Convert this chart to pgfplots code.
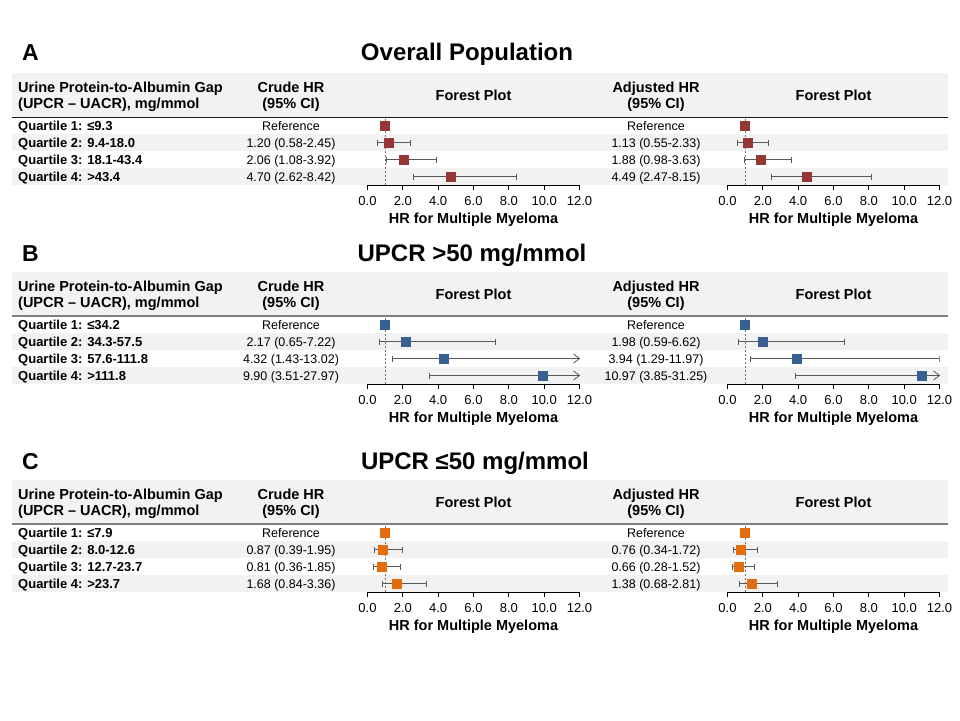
\documentclass[border=0pt]{standalone}
\usepackage{pgfplots}
\pgfplotsset{compat=1.18}
\usepackage{pgfplotstable}
\usepackage{fontspec}
\setmainfont{Liberation Sans}

\definecolor{bandgray}{HTML}{F2F2F2}
\definecolor{hrred}{HTML}{953735}
\definecolor{hrblue}{HTML}{376092}
\definecolor{hrorange}{HTML}{E46C0A}
\definecolor{cigray}{HTML}{595959}

\newcommand\titlefont{\bfseries\fontsize{24}{28}\selectfont}
\newcommand\letterfont{\bfseries\fontsize{23}{27}\selectfont}
\newcommand\headfont{\bfseries\fontsize{14.5}{17}\selectfont}
\newcommand\rowfont{\bfseries\fontsize{13}{15}\selectfont}
\newcommand\valfont{\fontsize{12.5}{15}\selectfont}

% open ">" for a CI that runs past 12
\pgfdeclareplotmark{chev}{%
  \pgfpathmoveto{\pgfpoint{-\pgfplotmarksize}{0.75\pgfplotmarksize}}%
  \pgfpathlineto{\pgfpointorigin}%
  \pgfpathlineto{\pgfpoint{-\pgfplotmarksize}{-0.75\pgfplotmarksize}}%
  \pgfusepathqstroke}

% y: 4 = quartile 1 (top row) ... 1 = quartile 4 (bottom row)
\pgfplotstableread{
y hr lo hi
4 1.00 1.00 1.00
3 1.20 0.58 2.45
2 2.06 1.08 3.92
1 4.70 2.62 8.42
}\Acrude
\pgfplotstableread{
y hr lo hi
4 1.00 1.00 1.00
3 1.13 0.55 2.33
2 1.88 0.98 3.63
1 4.49 2.47 8.15
}\Aadj
\pgfplotstableread{
y hr lo hi
4 1.00 1.00 1.00
3 2.17 0.65 7.22
2 4.32 1.43 13.02
1 9.90 3.51 27.97
}\Bcrude
\pgfplotstableread{
y hr lo hi
4 1.00 1.00 1.00
3 1.98 0.59 6.62
2 3.94 1.29 11.97
1 10.97 3.85 31.25
}\Badj
\pgfplotstableread{
y hr lo hi
4 1.00 1.00 1.00
3 0.87 0.39 1.95
2 0.81 0.36 1.85
1 1.68 0.84 3.36
}\Ccrude
\pgfplotstableread{
y hr lo hi
4 1.00 1.00 1.00
3 0.76 0.34 1.72
2 0.66 0.28 1.52
1 1.38 0.68 2.81
}\Cadj

\pgfplotsset{
  forest/.style={
    scale only axis, width=212pt, height=68pt,
    xmin=0, xmax=12, ymin=0.5, ymax=4.5, enlargelimits=false,
    axis x line*=bottom, axis y line=none,
    axis line style={-, black, line width=0.8pt},
    xtick={0,2,...,12}, tick align=outside, major tick length=5pt,
    major tick style={black, line width=0.8pt},
    /pgf/number format/assume math mode=true,
    xticklabel={\pgfmathprintnumber[fixed,fixed zerofill,precision=1]{\tick}},
    xticklabel style={font=\fontsize{13}{15}\selectfont},
    xticklabel shift=3pt,
    xlabel={HR for Multiple Myeloma},
    xlabel style={font=\bfseries\fontsize{14.5}{17}\selectfont,
      at={(axis description cs:0.5,0)}, anchor=center, yshift=-35pt},
  },
}

\newcommand\forest[2]{%
  \addplot[cigray!85, line width=0.6pt, dash pattern=on 2.5pt off 1.5pt]
    coordinates {(1,0.5) (1,4.5)};
  \addplot[only marks, mark=square*, mark size=4.5pt, color=#2,
    error bars/.cd, x dir=both, x explicit, error mark=|,
    error bar style={cigray, line width=0.8pt},
    error mark options={cigray, line width=0.8pt, mark size=3pt}]
    table[x=hr, y=y,
      x error plus expr=\thisrow{hi}-\thisrow{hr},
      x error minus expr=\thisrow{hr}-\thisrow{lo}] {#1};
}

% #1 top of header band, #2 letter, #3 title, #4 title centre, #5 title baseline (relative), #6 rule colour, #7 rule width
\newcommand\panel[7]{%
  \begin{scope}[x=1pt, y=-1pt, yshift=-#1pt]
    \fill[bandgray] (12,0) rectangle (948,44);
    \fill[bandgray] (12,61) rectangle (948,78);
    \fill[bandgray] (12,95) rectangle (948,112);
    \draw[#6, line width=#7] (12,44) -- (948,44);
    \node[anchor=base west, inner sep=0, font=\letterfont] at (22,#5) {#2};
    \node[anchor=base, inner sep=0, font=\titlefont] at (#4,#5) {#3};
    \node[anchor=base west, inner sep=0, font=\headfont] at (18,19.3) {Urine Protein-to-Albumin Gap};
    \node[anchor=base west, inner sep=0, font=\headfont] at (18,35.7) {(UPCR – UACR), mg/mmol};
    \node[anchor=base, inner sep=0, font=\headfont] at (291,19.3) {Crude HR};
    \node[anchor=base, inner sep=0, font=\headfont] at (291,35.7) {(95\% CI)};
    \node[anchor=base, inner sep=0, font=\headfont] at (473.5,27.7) {Forest Plot};
    \node[anchor=base, inner sep=0, font=\headfont] at (656,19.3) {Adjusted HR};
    \node[anchor=base, inner sep=0, font=\headfont] at (656,35.7) {(95\% CI)};
    \node[anchor=base, inner sep=0, font=\headfont] at (833.5,27.7) {Forest Plot};
  \end{scope}}

% #1 top, #2-#5 row labels
\newcommand\rowlabels[5]{%
  \begin{scope}[x=1pt, y=-1pt, yshift=-#1pt, every node/.style={anchor=base west, inner sep=0, font=\rowfont}]
    \node at (18,57) {#2};
    \node at (18,74) {#3};
    \node at (18,91) {#4};
    \node at (18,108) {#5};
  \end{scope}}

% #1 top, #2 column centre, #3-#6 values
\newcommand\rowvals[6]{%
  \begin{scope}[x=1pt, y=-1pt, yshift=-#1pt, every node/.style={anchor=base, inner sep=0, font=\valfont}]
    \node at (#2,57) {#3};
    \node at (#2,74) {#4};
    \node at (#2,91) {#5};
    \node at (#2,108) {#6};
  \end{scope}}

\begin{document}
\begin{tikzpicture}
  \path (0pt,0pt) rectangle (960pt,-720pt);

  % ---------- A ----------
  \panel{73}{A}{Overall Population}{467}{-12.5}{black!90}{0.9pt}
  \rowlabels{73}{Quartile 1: ≤9.3}{Quartile 2: 9.4-18.0}{Quartile 3: 18.1-43.4}{Quartile 4: >43.4}
  \rowvals{73}{291}{Reference}{1.20 (0.58-2.45)}{2.06 (1.08-3.92)}{4.70 (2.62-8.42)}
  \rowvals{73}{656}{Reference}{1.13 (0.55-2.33)}{1.88 (0.98-3.63)}{4.49 (2.47-8.15)}
  \begin{axis}[forest, at={(367.5pt,-185pt)}, anchor=south west]
    \forest{\Acrude}{hrred}
  \end{axis}
  \begin{axis}[forest, at={(727.5pt,-185pt)}, anchor=south west]
    \forest{\Aadj}{hrred}
  \end{axis}

  % ---------- B ----------
  \panel{272}{B}{UPCR >50 mg/mmol}{472}{-10.3}{black!50}{1.8pt}
  \rowlabels{272}{Quartile 1: ≤34.2}{Quartile 2: 34.3-57.5}{Quartile 3: 57.6-111.8}{Quartile 4: >111.8}
  \rowvals{272}{291}{Reference}{2.17 (0.65-7.22)}{4.32 (1.43-13.02)}{9.90 (3.51-27.97)}
  \rowvals{272}{656}{Reference}{1.98 (0.59-6.62)}{3.94 (1.29-11.97)}{10.97 (3.85-31.25)}
  \begin{axis}[forest, at={(367.5pt,-384pt)}, anchor=south west]
    \forest{\Bcrude}{hrblue}
    \addplot[only marks, mark=chev, mark size=6pt, cigray, line width=0.8pt]
      coordinates {(12,2) (12,1)};
  \end{axis}
  \begin{axis}[forest, at={(727.5pt,-384pt)}, anchor=south west]
    \forest{\Badj}{hrblue}
    \addplot[only marks, mark=chev, mark size=6pt, cigray, line width=0.8pt]
      coordinates {(12,1)};
  \end{axis}

  % ---------- C ----------
  \panel{480}{C}{UPCR ≤50 mg/mmol}{475}{-10.8}{black!50}{1.8pt}
  \rowlabels{480}{Quartile 1: ≤7.9}{Quartile 2: 8.0-12.6}{Quartile 3: 12.7-23.7}{Quartile 4: >23.7}
  \rowvals{480}{291}{Reference}{0.87 (0.39-1.95)}{0.81 (0.36-1.85)}{1.68 (0.84-3.36)}
  \rowvals{480}{656}{Reference}{0.76 (0.34-1.72)}{0.66 (0.28-1.52)}{1.38 (0.68-2.81)}
  \begin{axis}[forest, at={(367.5pt,-592pt)}, anchor=south west]
    \forest{\Ccrude}{hrorange}
  \end{axis}
  \begin{axis}[forest, at={(727.5pt,-592pt)}, anchor=south west]
    \forest{\Cadj}{hrorange}
  \end{axis}
\end{tikzpicture}
\end{document}
